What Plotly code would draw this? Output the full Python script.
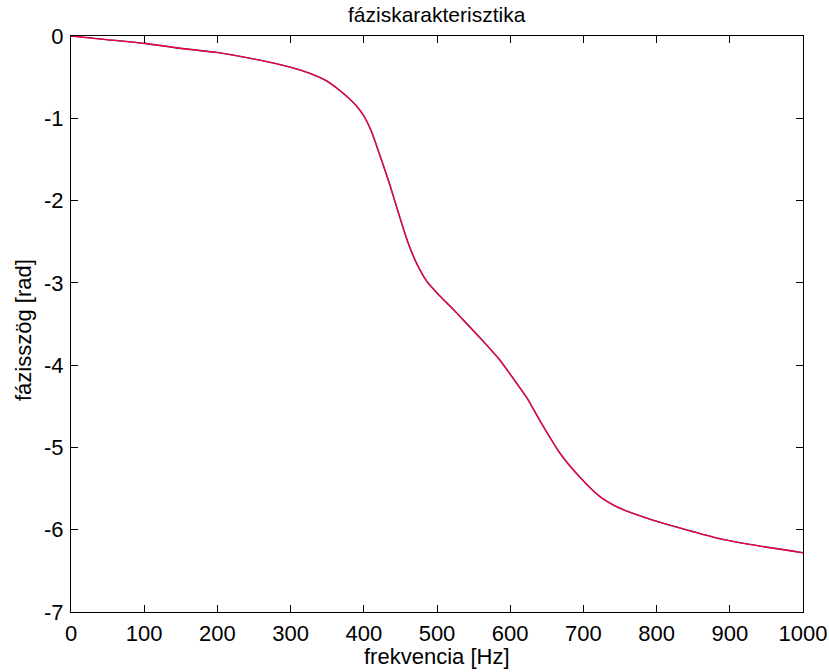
import plotly.graph_objects as go

freq = [0, 50, 100, 150, 200, 250, 300, 325, 350, 367, 380, 390, 400, 410, 422, 436, 447,
        460, 472, 486, 504, 522, 540, 559, 586, 604, 623, 641, 668, 695, 723, 750, 787,
        832, 882, 928, 986, 1000]
phase = [0, -0.045, -0.09, -0.15, -0.2, -0.28, -0.38, -0.45, -0.55, -0.66, -0.76, -0.85,
         -0.97, -1.15, -1.45, -1.82, -2.14, -2.50, -2.76, -2.98, -3.16, -3.32, -3.49, -3.67,
         -3.94, -4.16, -4.40, -4.68, -5.07, -5.36, -5.60, -5.74, -5.86, -5.98, -6.10, -6.18,
         -6.26, -6.28]

x_ticks = list(range(0, 1001, 100))
y_ticks = list(range(-7, 1))
y_tick_text = [str(v) for v in y_ticks]  # plain hyphen minus as in the original

L, R, T, B = 71, 803, 36, 612
W, H = 829, 672

fig = go.Figure()
fig.add_trace(go.Scatter(x=freq, y=phase, mode="lines", line_shape="spline",
                         line=dict(color="#6a2a9a", width=1.6, smoothing=0.6), showlegend=False))
fig.add_trace(go.Scatter(x=freq, y=phase, mode="lines", line_shape="spline",
                         line=dict(color="#ff0022", width=1.1, smoothing=0.6), showlegend=False))

font_family = "Liberation Sans, Arial, sans-serif"
axis_common = dict(showgrid=False, zeroline=False, showline=True, linecolor="black",
                   linewidth=1.3, mirror="ticks", ticks="inside", ticklen=7,
                   tickcolor="black", tickwidth=1, automargin=False,
                   tickfont=dict(family=font_family, size=22, color="black"))

fig.update_layout(
    width=W, height=H,
    margin=dict(l=L, r=W - R, t=T, b=H - B),
    paper_bgcolor="white", plot_bgcolor="white",
    xaxis=dict(range=[0, 1000], tickvals=x_ticks, ticklabelstandoff=1, **axis_common),
    yaxis=dict(range=[-7, 0], tickvals=y_ticks, ticktext=y_tick_text,
               ticklabelstandoff=2, **axis_common),
    annotations=[
        dict(text="fáziskarakterisztika", xref="paper", yref="paper",
             x=0.5, y=(B - 14) / (B - T), xanchor="center", yanchor="middle",
             showarrow=False, font=dict(family=font_family, size=21, color="black")),
        dict(text="frekvencia [Hz]", xref="paper", yref="paper",
             x=0.5, y=(B - 656) / (B - T), xanchor="center", yanchor="middle",
             showarrow=False, font=dict(family=font_family, size=22, color="black")),
        dict(text="fázisszög [rad]", xref="paper", yref="paper", textangle=-90,
             x=(23 - L) / (R - L), y=(B - 330) / (B - T), xanchor="center", yanchor="middle",
             showarrow=False, font=dict(family=font_family, size=22, color="black")),
    ],
)

fig.write_html("out.html")
